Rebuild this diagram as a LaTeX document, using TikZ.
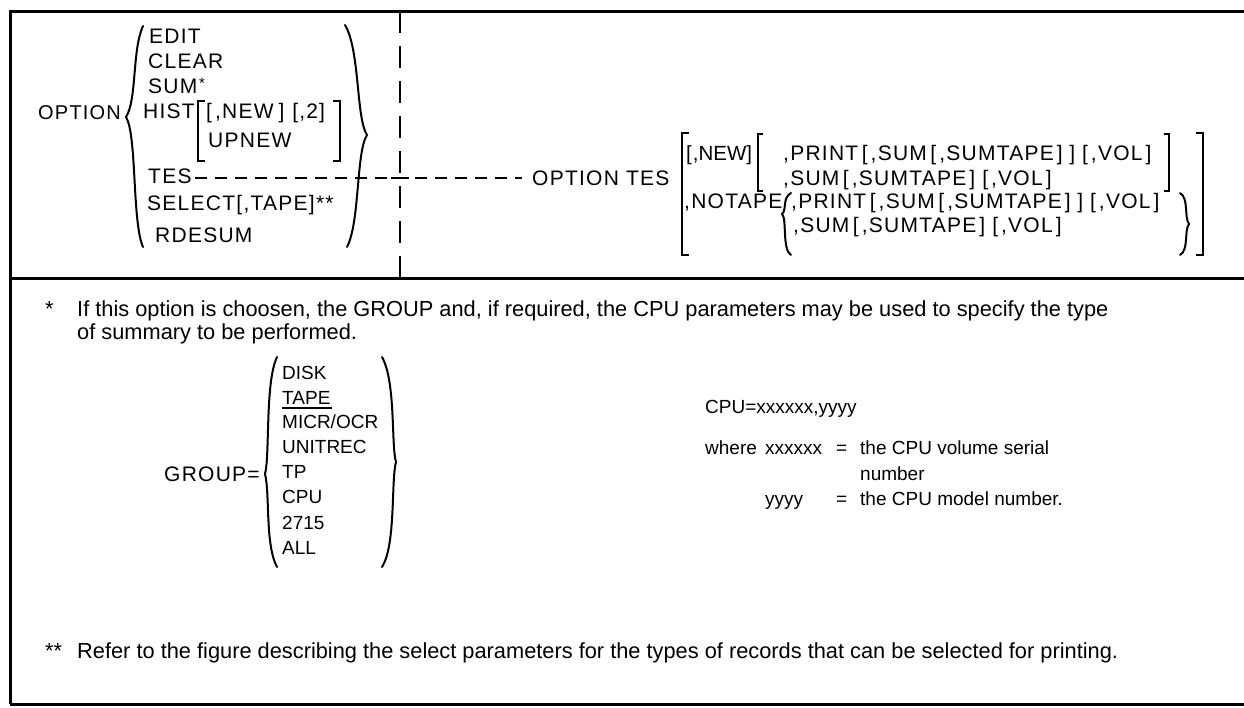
\documentclass[tikz,border=0pt]{standalone}
\usepackage{fontspec}
\setmainfont{Liberation Sans}
\newfontfamily\optf[LetterSpace=6]{Liberation Sans}
\newfontfamily\notef{Liberation Sans}
\newcommand\LB{\kern3.5pt[\kern3pt}
\newcommand\RB{\kern3pt]\kern3.5pt}
\begin{document}
\begin{tikzpicture}[x=1pt,y=-1pt,
  frame/.style={line width=3pt},
  opt/.style={anchor=base west, inner sep=0pt, font=\optf\fontsize{21}{25}\selectfont},
  note/.style={anchor=base west, inner sep=0pt, font=\notef\fontsize{21.8}{25}\selectfont},
  lst/.style={anchor=base west, inner sep=0pt, font=\notef\fontsize{19}{23}\selectfont},
  brk/.style={line width=2.2pt, line join=miter},
  brc/.style={line width=2pt, line cap=round},
  vdash/.style={line width=2pt, dash pattern=on 22pt off 13pt},
  hdash/.style={line width=1.4pt, dash pattern=on 12pt off 8pt}]
\useasboundingbox (0,0) rectangle (1244,707);
% frame
\draw[frame] (10,704) -- (10,11) -- (1244,11);
\draw[frame] (10,278) -- (1244,278);
\draw[frame] (10,704) -- (1244,704);
\coordinate (vt) at (400,11);
\coordinate (vb) at (400,278);
\draw[vdash] (vt) -- (vb);
% left column
\node[opt, font=\optf\fontsize{20}{24}\selectfont] (option) at (38,119) {OPTION};
\node[opt] (edit) at (149,43) {EDIT};
\node[opt] (clear) at (148,68) {CLEAR};
\node[opt] (sum) at (148,93) {SUM};
\node[anchor=base west, inner sep=0pt, font=\notef\fontsize{15}{15}\selectfont] (sumstar) at (199,88) {*};
\node[opt] (hist) at (143,118) {HIST};
\node[opt] (histnew) at (206,118) {[\kern3pt,NEW\kern5pt]\kern8pt[\kern1pt,2\kern1pt]};
\node[opt] (upnew) at (208,147) {UPNEW};
\draw[brk] (205,101) -- (198,101) -- (198,161) -- (205,161);
\draw[brk] (333,101) -- (340,101) -- (340,161) -- (333,161);
\node[opt] (tes) at (148,183) {TES};
\node[opt] (select) at (147,210) {SELECT[,TAPE]**};
\node[opt] (rdesum) at (155,242) {RDESUM};
\draw[brc] (143,26) .. controls (132,50) and (137,100) .. (126,117) .. controls (137,135) and (132,222) .. (143,247);
\draw[brc] (345,25) .. controls (360,50) and (356,118) .. (367,135) .. controls (356,152) and (360,222) .. (347,247);
% dashed link
\node[opt] (opttes) at (532,185) {OPTION TES};
\coordinate (dl) at (195,178);
\coordinate (dr) at (522,178);
\draw[hdash] (dl) -- (dr);
\draw[line width=1.4pt] (391,178) -- (409,178);
% right syntax
\draw[brk] (689,133) -- (682,133) -- (682,255) -- (689,255);
\draw[brk] (1196,133) -- (1203,133) -- (1203,255) -- (1196,255);
\node[opt, font=\notef\fontsize{20.5}{24}\selectfont] (rnew) at (686,160) {[\kern1pt,NEW]};
\draw[brk] (763,134) -- (758,134) -- (758,191) -- (763,191);
\draw[brk] (1164,134) -- (1169,134) -- (1169,191) -- (1164,191);
\node[opt] (r1) at (783,160) {,PRINT\LB,SUM\LB,SUMTAPE\RB\RB\LB,VOL\RB};
\node[opt] (r2) at (783,185) {,SUM\LB,SUMTAPE\RB\LB,VOL\RB};
\node[opt] (notape) at (684,208) {,NOTAPE};
\draw[brc] (791,193) .. controls (782,198) and (787,210) .. (782,214) .. controls (787,218) and (782,250) .. (791,255);
\node[opt] (r3) at (791,208) {,PRINT\LB,SUM\LB,SUMTAPE\RB\RB\LB,VOL\RB};
\node[opt] (r4) at (793,232) {,SUM\LB,SUMTAPE\RB\LB,VOL\RB};
\draw[brc] (1180,193) .. controls (1189,198) and (1184,218) .. (1189,224) .. controls (1184,230) and (1189,250) .. (1180,255);
% footnote 1
\node[note] (star1) at (45,316) {*};
\node[note] (fn1a) at (77,316) {If this option is choosen, the GROUP and, if required, the CPU parameters may be used to specify the type};
\node[note] (fn1b) at (77,339) {of summary to be performed.};
% GROUP list
\node[opt] (group) at (164,481) {GROUP=};
\node[lst] (g1) at (282,379) {DISK};
\node[lst] (g2) at (282,404) {TAPE};
\draw[line width=1.2pt] (282,408) -- (332,408);
\node[lst] (g3) at (282,428) {MICR/OCR};
\node[lst] (g4) at (282,453) {UNITREC};
\node[lst] (g5) at (282,478) {TP};
\node[lst] (g6) at (282,503) {CPU};
\node[lst] (g7) at (282,529) {2715};
\node[lst] (g8) at (282,554) {ALL};
\draw[brc] (277,357) .. controls (265,382) and (270,455) .. (265,474) .. controls (270,493) and (265,545) .. (277,567);
\draw[brc] (382,357) .. controls (396,382) and (391,445) .. (396,462) .. controls (391,480) and (396,545) .. (382,567);
% CPU block
\node[lst] (cpu) at (705,413) {CPU=xxxxxx,yyyy};
\node[lst] (where) at (705,454) {where};
\node[lst] (xx) at (765,454) {xxxxxx};
\node[lst] (eq1) at (836,454) {=};
\node[lst] (d1) at (860,454) {the CPU volume serial};
\node[lst] (d1b) at (860,480) {number};
\node[lst] (yy) at (765,505) {yyyy};
\node[lst] (eq2) at (836,505) {=};
\node[lst] (d2) at (860,505) {the CPU model number.};
% footnote 2
\node[note] (star2) at (45,658) {**};
\node[note] (fn2) at (77,658) {Refer to the figure describing the select parameters for the types of records that can be selected for printing.};
\end{tikzpicture}
\end{document}
